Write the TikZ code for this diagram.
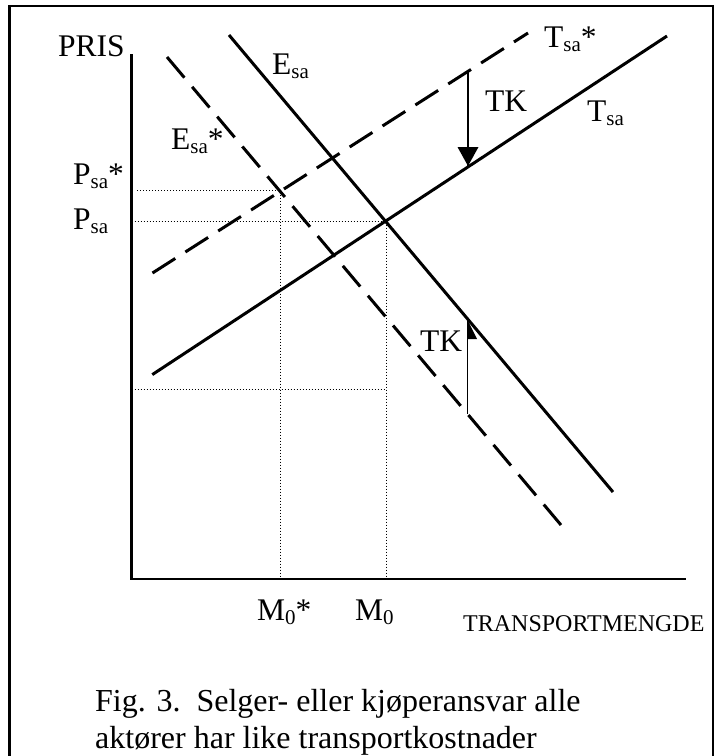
\documentclass[tikz,border=0pt]{standalone}
\usepackage{fontspec}
\setmainfont{Liberation Serif}
\newcommand{\sbs}[1]{\raisebox{-4.5pt}{\fontsize{21}{21}\selectfont #1}}
\tikzset{
  lbl/.style={anchor=base west, inner sep=0pt, font=\fontsize{31.5}{31.5}\selectfont},
  captxt/.style={anchor=base west, inner sep=0pt, font=\fontsize{32}{32}\selectfont},
  curve/.style={line width=3pt},
  dcurve/.style={line width=3pt, dash pattern=on 27pt off 12pt},
  axisline/.style={line width=2.2pt},
  frameline/.style={line width=2.5pt},
  guide/.style={line width=1pt, dash pattern=on 1pt off 2pt},
  tkline/.style={line width=1.6pt},
}
\begin{document}
\begin{tikzpicture}[x=1pt,y=-1pt]
\useasboundingbox (0,0) rectangle (717,756);
% frame (open at bottom)
\coordinate (fA) at (9.5,756);
\coordinate (fB) at (9.5,6);
\coordinate (fC) at (713,6);
\coordinate (fD) at (713,756);
\draw[frameline] (fA) -- (fB) -- (fC) -- (fD);
% axes
\coordinate (O) at (131.5,579);
\coordinate (Ytop) at (131.5,54);
\coordinate (Xend) at (686,579);
\draw[axisline] (Ytop) -- (O) -- (Xend);
% guide lines
\coordinate (eqs) at (280,190.5);
\coordinate (eq) at (386,221);
\coordinate (ps) at (137,190.5);
\coordinate (p) at (131.5,221);
\coordinate (ms) at (280,579);
\coordinate (m) at (386,579);
\coordinate (lowA) at (131.5,389);
\coordinate (lowB) at (386,389);
\draw[guide] (ps) -- (eqs) -- (ms);
\draw[guide] (p) -- (eq) -- (m);
\draw[guide] (lowA) -- (lowB);
% curves
\coordinate (EsaA) at (229,35);
\coordinate (EsaB) at (613,492);
\coordinate (EssA) at (167,57);
\coordinate (EssB) at (561,525);
\coordinate (TsaA) at (152.3,374.6);
\coordinate (TsaB) at (667,36);
\coordinate (TssA) at (152.5,273);
\coordinate (TssB) at (528,33);
\draw[curve] (EsaA) -- (EsaB);
\draw[dcurve] (EssA) -- (EssB);
\draw[curve] (TsaA) -- (TsaB);
\draw[dcurve] (TssA) -- (TssB);
% TK arrows
\coordinate (tkA) at (468,70);
\coordinate (tkB) at (468,166);
\draw[tkline] (tkA) -- (tkB);
\fill (tkB) -- ++(-10.5,-19) -- ++(21,0) -- cycle;
\coordinate (tkC) at (467.5,413.5);
\coordinate (tkD) at (467.5,320);
\draw[tkline] (tkC) -- (tkD);
\fill (tkD) -- ++(0,19) -- ++(9.5,0) -- cycle;
% labels
\node[lbl] (pris) at (58,56) {PRIS};
\node[lbl] (esa) at (272,74) {E\sbs{sa}};
\node[lbl] (esas) at (171,149) {E\sbs{sa}*};
\node[lbl] (tsas) at (544,47) {T\sbs{sa}*};
\node[lbl] (tk1) at (485,111) {TK};
\node[lbl] (tsa) at (587,121) {T\sbs{sa}};
\node[lbl] (psas) at (73,184) {P\sbs{sa}*};
\node[lbl] (psa) at (73,229) {P\sbs{sa}};
\node[lbl] (tk2) at (420,351) {TK};
\node[lbl] (m0s) at (257,620) {M\sbs{0}*};
\node[lbl] (m0) at (355,620) {M\sbs{0}};
\node[lbl, font=\fontsize{24}{24}\selectfont] (xl) at (463,631) {TRANSPORTMENGDE};
\node[captxt] (capA) at (95,711) {Fig. 3.\ \ Selger- eller kjøperansvar alle};
\node[captxt] (capB) at (95,748) {aktører har like transportkostnader};
\end{tikzpicture}
\end{document}
